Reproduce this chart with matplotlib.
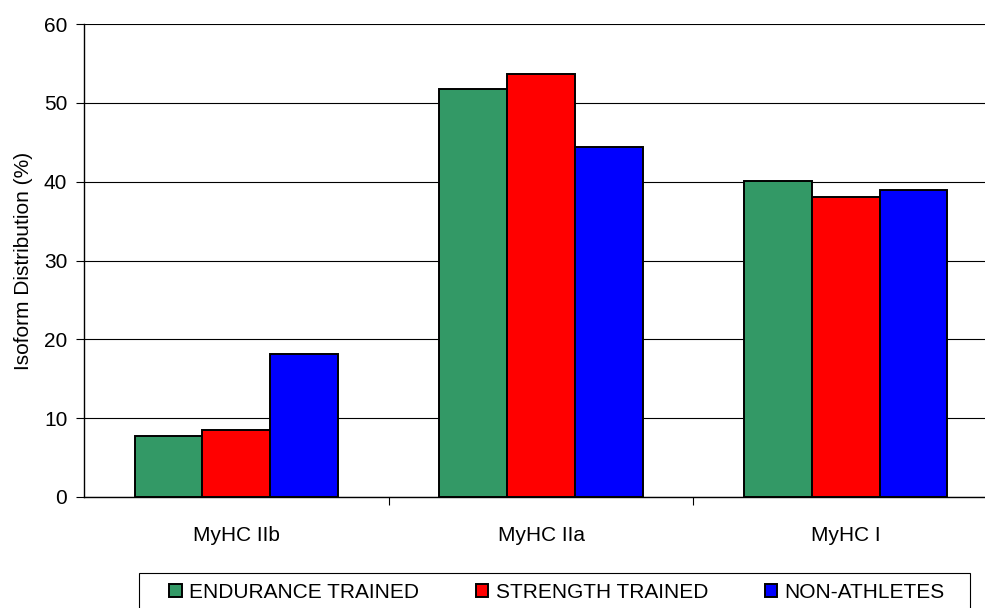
import matplotlib
matplotlib.use("Agg")
import matplotlib.pyplot as plt
from matplotlib.patches import Rectangle
import numpy as np

plt.rcParams['font.family'] = ['Liberation Sans', 'DejaVu Sans']

# data
categories = ['MyHC IIb', 'MyHC IIa', 'MyHC I']
endurance = [7.8, 51.7, 40.1]
strength = [8.5, 53.6, 38.0]
non_athletes = [18.2, 44.4, 38.9]
series_names = ['ENDURANCE TRAINED', 'STRENGTH TRAINED', 'NON-ATHLETES']
y_ticks = [0, 10, 20, 30, 40, 50, 60]

colors = ['#339966', '#FF0000', '#0000FF']
FS = 15

W, H = 985, 608
fig = plt.figure(figsize=(W / 100, H / 100), dpi=100)
ax = fig.add_axes([84 / W, 111 / H, 914 / W, 473 / H])

x = np.arange(len(categories))
bw = 1 / 4.5
for i, (vals, name) in enumerate(zip([endurance, strength, non_athletes], series_names)):
    ax.bar(x + (i - 1) * bw, vals, width=bw, color=colors[i], edgecolor='black',
           linewidth=1.4, label=name, zorder=3)

ax.set_xlim(-0.5, len(categories) - 0.5)
ax.set_ylim(0, 60)
ax.set_yticks(y_ticks)
ax.yaxis.grid(True, color='black', linewidth=0.8, zorder=0)
ax.set_axisbelow(True)

# category boundary ticks + centred labels
ax.set_xticks(x + 0.5)
ax.set_xticklabels([])
ax.set_xticks(x, minor=True)
ax.set_xticklabels(categories, minor=True, fontsize=FS)
ax.tick_params(axis='x', which='major', length=6, width=0.8, direction='out')
ax.tick_params(axis='x', which='minor', length=0, pad=21)
ax.tick_params(axis='y', length=6, width=0.8, labelsize=FS, pad=6)

for side in ['top', 'right']:
    ax.spines[side].set_visible(False)
for side in ['left', 'bottom']:
    ax.spines[side].set_linewidth(1.0)
    ax.spines[side].set_color('black')

ax.set_ylabel('Isoform Distribution (%)', fontsize=FS, labelpad=8)

# legend box runs off the bottom edge like in the original
fig.patches.append(Rectangle((139 / W, -6 / H), 831 / W, 41 / H, transform=fig.transFigure,
                             facecolor='white', edgecolor='black', linewidth=0.8, zorder=1))
fig.legend(loc='center left', bbox_to_anchor=(169 / W, 1 - 592 / H, 776 / W, 0),
           mode='expand', ncol=3, fontsize=FS, frameon=False,
           handlelength=0.6, handleheight=0.6, handletextpad=0.35,
           borderpad=0, borderaxespad=0, columnspacing=2.5)

fig.savefig('out.png', dpi=100)
